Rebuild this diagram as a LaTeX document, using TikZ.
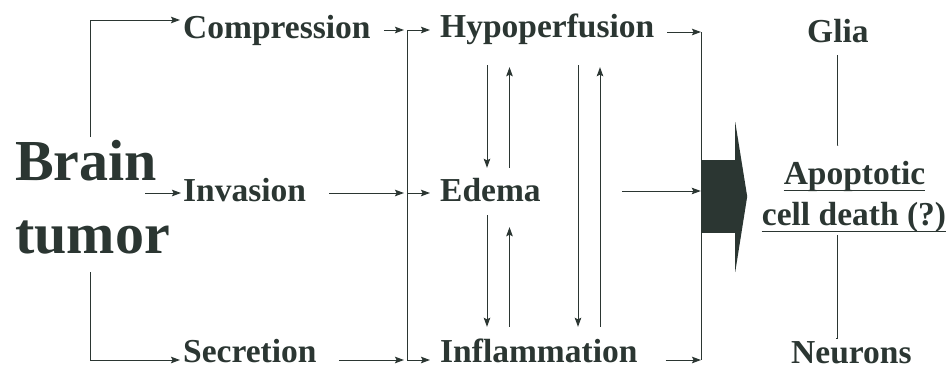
\documentclass[tikz,border=0pt]{standalone}
\usepackage{fontspec}
\setmainfont{Liberation Serif}
\usepackage{tikz}
\usetikzlibrary{arrows.meta}
\definecolor{ink}{HTML}{2B3632}

\begin{document}
\begin{tikzpicture}[x=1pt,y=-1pt,
  lbl/.style={inner sep=0pt,text=ink,font=\fontsize{33.5}{36}\selectfont\bfseries,text height=24pt,text depth=4pt},
  big/.style={inner sep=0pt,text=ink,font=\fontsize{58}{60}\selectfont\bfseries},
  flow/.style={draw=ink,line width=1pt,-{Stealth[length=9pt,width=6.5pt,inset=1.5pt]}},
  plain/.style={draw=ink,line width=1pt}]
\useasboundingbox (0,0) rectangle (950,370);

\node (brain) at (15,180) [big,anchor=base west] {Brain};
\node (tumor) at (15,253) [big,anchor=base west] {tumor};

\node (comp) at (183,38) [lbl,anchor=base west] {Compression};
\node (inv) at (183,201) [lbl,anchor=base west] {Invasion};
\node (secr) at (183,362) [lbl,anchor=base west] {Secretion};

\node (hypo) at (440,37) [lbl,anchor=base west] {Hypoperfusion};
\node (edema) at (440,201) [lbl,anchor=base west] {Edema};
\node (infl) at (440,362) [lbl,anchor=base west] {Inflammation};

\node (glia) at (807,42) [lbl,anchor=base west] {Glia};
\node (apop) at (854.5,184) [lbl,anchor=base] {Apoptotic};
\node (cell) at (854,225) [lbl,anchor=base] {cell death (?)};
\node (neur) at (791,363) [lbl,anchor=base west] {Neurons};

\coordinate (jA) at (407,30);
\coordinate (jB) at (407,193);
\coordinate (jC) at (407,360);
\coordinate (rA) at (701,32);
\coordinate (rC) at (701,360);

% tumor to its three effects
\draw[flow] ([shift={(75,-43)}]brain.base west) |- ([shift={(-3,-8)}]comp.west);
\draw[flow] ([shift={(-38,2)}]inv.west) -- ([shift={(-2,2)}]inv.west);
\draw[flow] ([shift={(75,19)}]tumor.base west) |- ([shift={(-3,8)}]secr.west);

\draw[flow] ([shift={(13,2)}]comp.east) -- ([shift={(-3,0)}]jA);
\draw[flow] ([shift={(23,2)}]inv.east) -- ([shift={(-3,0)}]jB);
\draw[flow] ([shift={(22,8)}]secr.east) -- ([shift={(-3,0)}]jC);
\draw[plain] (jA) -- (jC);
\draw[flow] (jA) -- ([shift={(-10,3)}]hypo.west);
\draw[flow] (jB) -- ([shift={(-10,2)}]edema.west);
\draw[flow] (jC) -- ([shift={(-10,8)}]infl.west);

% mutual effects
\draw[flow] ([shift={(47,24)}]hypo.south west) -- ([shift={(47,-9)}]edema.north west);
\draw[flow] ([shift={(69.5,-9)}]edema.north west) -- ([shift={(69.5,26)}]hypo.south west);
\draw[flow] ([shift={(47,10)}]edema.south west) -- ([shift={(47,-11)}]infl.north west);
\draw[flow] ([shift={(69.5,-11)}]infl.north west) -- ([shift={(69.5,22)}]edema.south west);
\draw[flow] ([shift={(138,24)}]hypo.south west) -- ([shift={(138,-11)}]infl.north west);
\draw[flow] ([shift={(160,-11)}]infl.north west) -- ([shift={(160,26)}]hypo.south west);

% convergence on the big arrow
\node (blk) at (718,196.5) [fill=ink,inner sep=0pt,minimum width=34pt,minimum height=73pt] {};
\fill[ink] ([shift={(0,-38)}]blk.north east) -- ([shift={(12,0)}]blk.east) -- ([shift={(0,39)}]blk.south east) -- cycle;
\draw[flow] ([shift={(13,5)}]hypo.east) -- (rA);
\draw[flow] ([shift={(28,8)}]infl.east) -- (rC);
\draw[plain] (rA) -- (rC);
\draw[flow] ([shift={(81,0)}]edema.east) -- (edema.east -| blk.west);

\draw[plain] ([shift={(0,2)}]apop.south west) -- ([shift={(0,2)}]apop.south east);
\draw[plain] ([shift={(0,2)}]cell.south west) -- ([shift={(0,2)}]cell.south east);
\draw[plain] ([shift={(0,9)}]glia.south) |- ([shift={(-17,-14)}]apop.north);
\draw[plain] ([shift={(-17,6)}]cell.south) |- ([shift={(-15.5,0)}]neur.north);
\end{tikzpicture}
\end{document}
